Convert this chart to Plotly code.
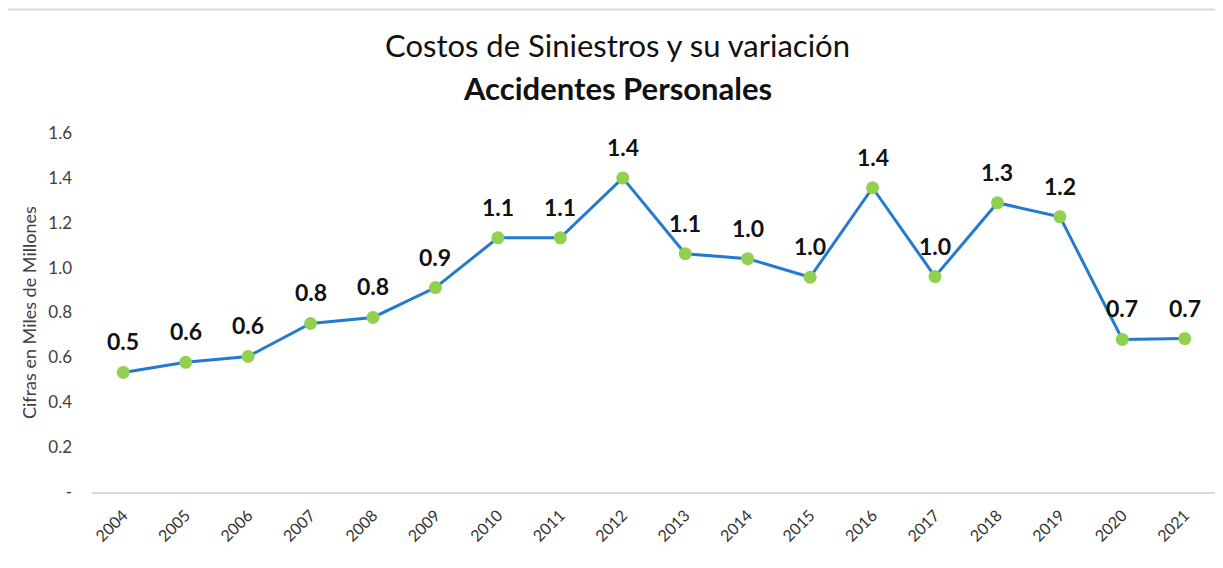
import plotly.graph_objects as go

years = ["2004", "2005", "2006", "2007", "2008", "2009", "2010", "2011", "2012",
         "2013", "2014", "2015", "2016", "2017", "2018", "2019", "2020", "2021"]
costos = [0.533, 0.578, 0.604, 0.751, 0.778, 0.911, 1.133, 1.133, 1.400,
          1.062, 1.040, 0.957, 1.356, 0.960, 1.289, 1.227, 0.680, 0.684]
tick_vals = [0, 0.2, 0.4, 0.6, 0.8, 1.0, 1.2, 1.4, 1.6]
tick_text = ["-", "0.2", "0.4", "0.6", "0.8", "1.0", "1.2", "1.4", "1.6"]
title_line1 = "Costos de Siniestros y su variación"
title_line2 = "Accidentes Personales"
y_title = "Cifras en Miles de Millones"

W, H = 1215, 560
L, R, T, B = 84, 7, 125, 76
PW = W - L - R
PH = H - T - B

fig = go.Figure()
fig.add_trace(go.Scatter(
    x=years, y=costos, mode="lines+markers",
    line=dict(color="#2479D0", width=3),
    marker=dict(color="#92D050", size=13),
    cliponaxis=False, hoverinfo="skip", showlegend=False,
))

# data labels (category axis positions given by index)
for i, v in enumerate(costos):
    fig.add_annotation(x=i, y=v, text=f"<b>{v:.1f}</b>", showarrow=False,
                       yshift=31, xanchor="center", yanchor="middle",
                       font=dict(family="Lato", size=23, color="#111111"))

title_x = (609 - L) / PW
fig.add_annotation(text=title_line1, xref="paper", yref="paper",
                   x=title_x, y=1 + (T - 37) / PH, xanchor="center", yanchor="middle",
                   showarrow=False, font=dict(family="Lato", size=31, color="#111111"))
fig.add_annotation(text="<b>" + title_line2 + "</b>", xref="paper", yref="paper",
                   x=title_x, y=1 + (T - 80) / PH, xanchor="center", yanchor="middle",
                   showarrow=False, font=dict(family="Lato", size=31, color="#111111"))

# y-axis title
fig.add_annotation(text=y_title, xref="paper", yref="paper",
                   x=(21 - L) / PW, y=1 - (313 - 8 - T) / PH,
                   xanchor="center", yanchor="middle", textangle=-90,
                   showarrow=False, font=dict(family="Lato", size=18, color="#404040"))

fig.add_shape(type="line", xref="paper", yref="paper",
              x0=-L / PW, x1=1 + R / PW,
              y0=1 + (T - 1.5) / PH, y1=1 + (T - 1.5) / PH,
              line=dict(color="#D9D9D9", width=2))

fig.update_layout(
    width=W, height=H,
    paper_bgcolor="white", plot_bgcolor="white",
    margin=dict(l=L, r=R, t=T, b=B, autoexpand=False),
    xaxis=dict(
        type="category", range=[-0.5, len(years) - 0.5], tickangle=-45, showgrid=False,
        showline=True, linecolor="#D9D9D9", linewidth=1.5,
        ticks="", tickfont=dict(family="Lato", size=16, color="#333333"),
        ticklabelstandoff=6,
    ),
    yaxis=dict(
        range=[0, 1.6], tickvals=tick_vals, ticktext=tick_text,
        showgrid=False, zeroline=False, showline=False, ticks="",
        tickfont=dict(family="Lato", size=17, color="#404040"),
        ticklabelstandoff=19,
    ),
)

fig.write_html("out.html")
